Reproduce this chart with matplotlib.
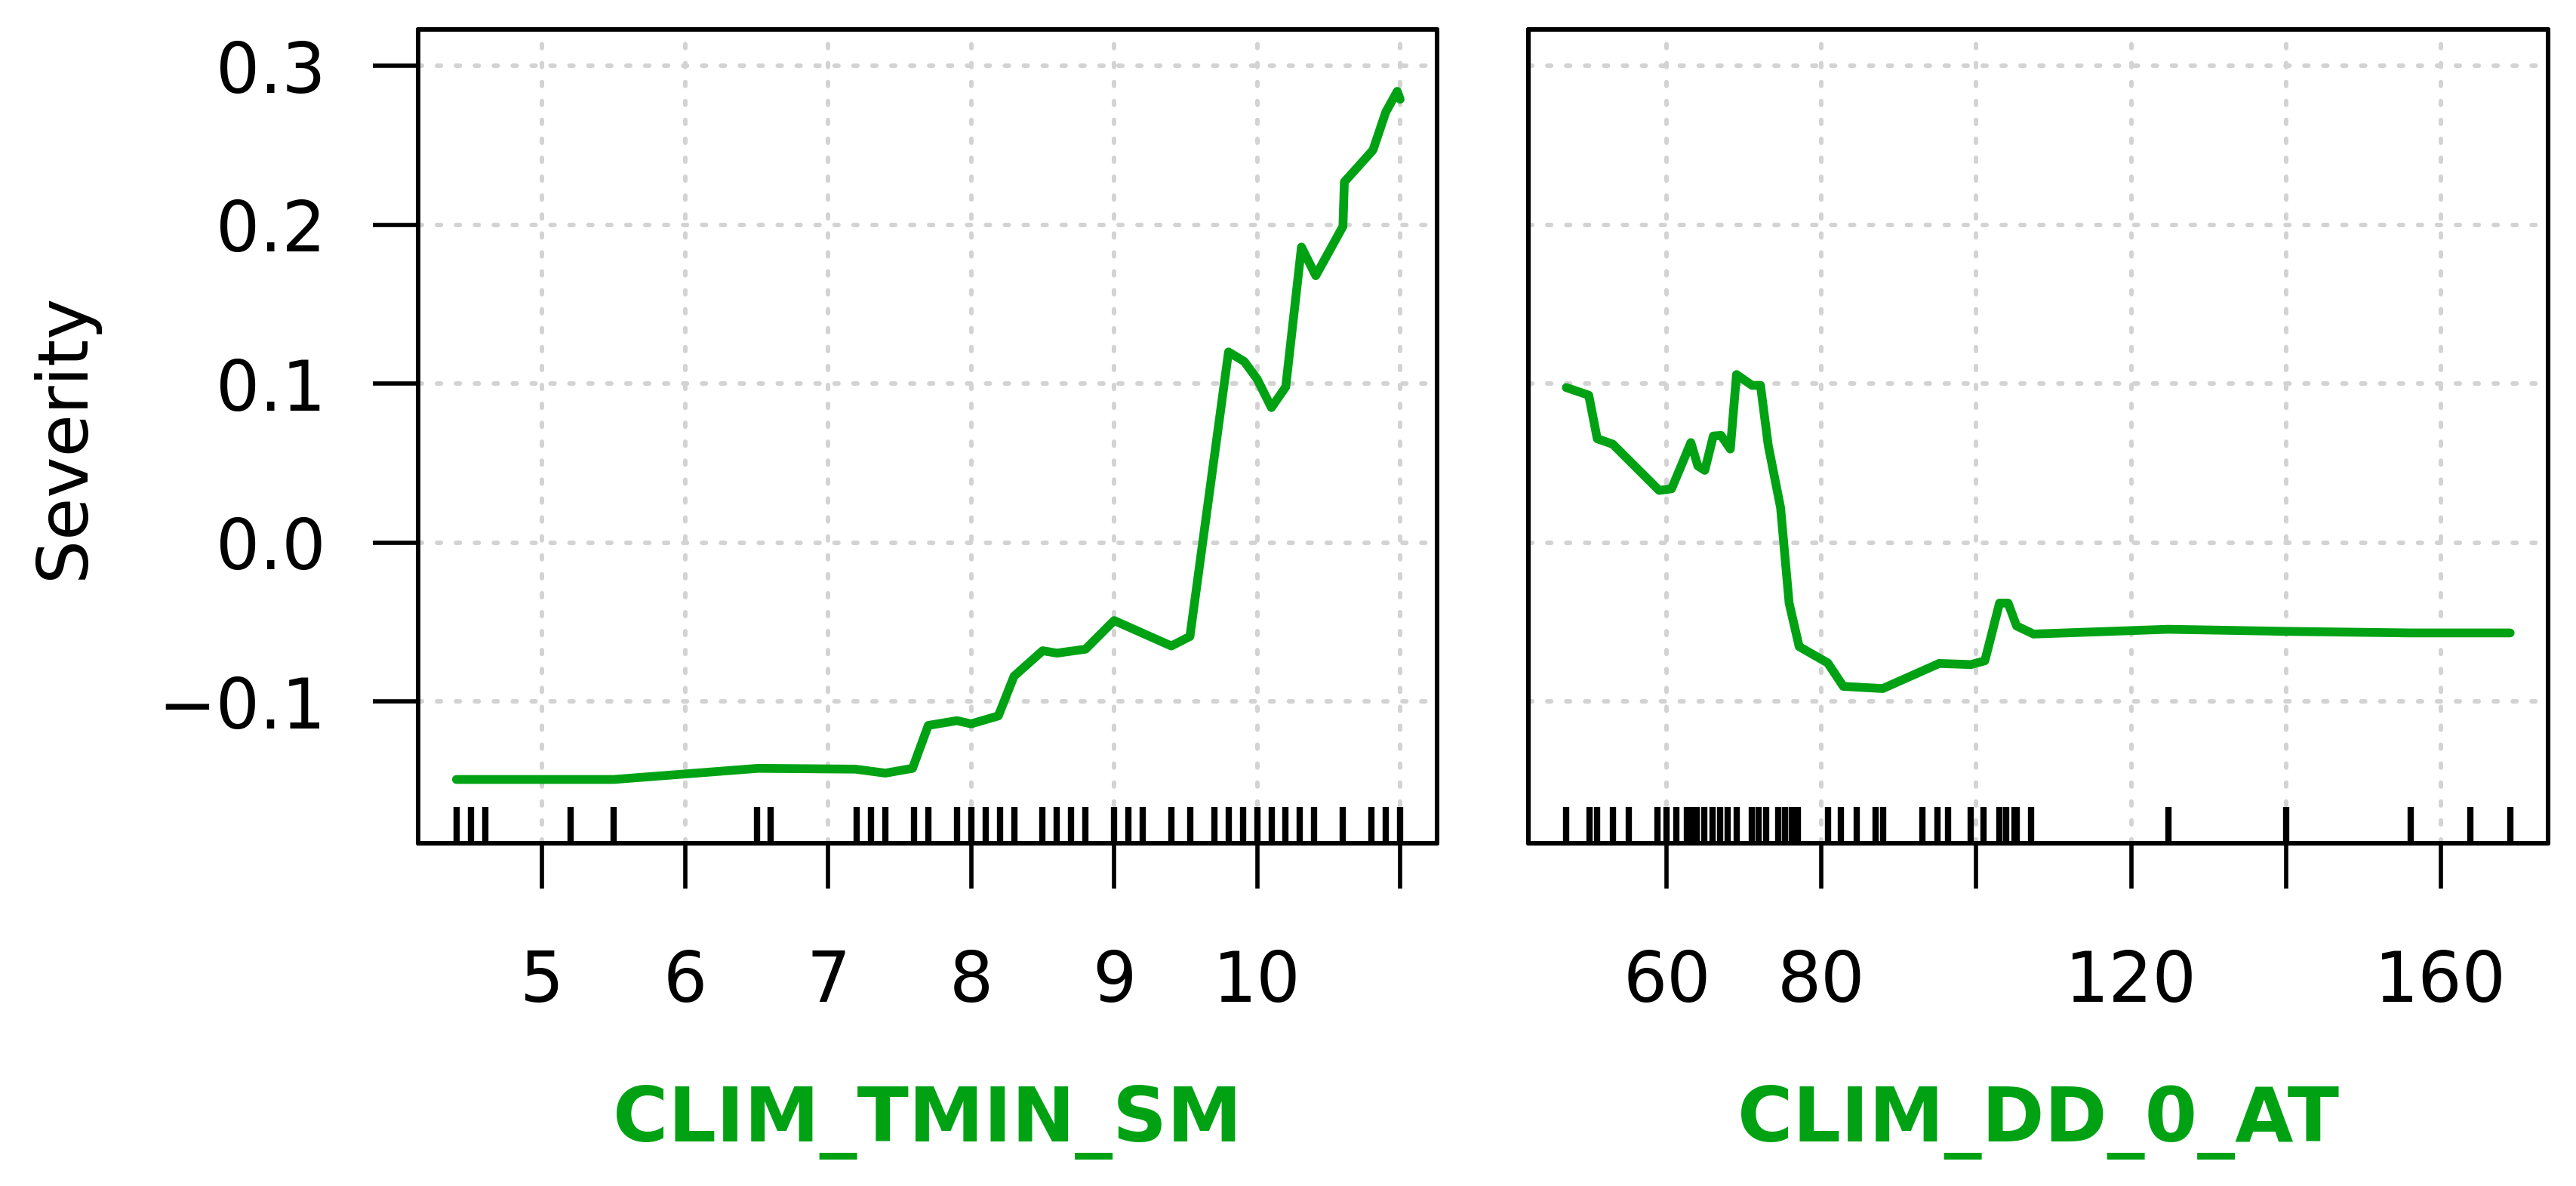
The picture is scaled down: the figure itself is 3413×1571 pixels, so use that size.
import matplotlib
matplotlib.use("Agg")
import matplotlib.pyplot as plt

plt.rcParams['font.family'] = ['DejaVu Sans']

# ---------------- data ----------------
tmin_x = [4.40, 5.50, 6.51, 7.19, 7.40, 7.59, 7.70, 7.90, 8.00, 8.19, 8.30, 8.50, 8.60,
          8.80, 9.00, 9.40, 9.53, 9.80, 9.91, 10.00, 10.10, 10.20, 10.31, 10.41, 10.60,
          10.61, 10.81, 10.90, 10.98, 11.00]
tmin_y = [-0.149, -0.149, -0.142, -0.1425, -0.145, -0.142, -0.115, -0.112, -0.114, -0.109,
          -0.084, -0.068, -0.0695, -0.067, -0.049, -0.065, -0.059, 0.120, 0.114, 0.103,
          0.085, 0.098, 0.186, 0.168, 0.199, 0.227, 0.247, 0.271, 0.284, 0.279]
tmin_rug = [4.4, 4.5, 4.6, 5.2, 5.5, 6.5, 6.6, 7.2, 7.3, 7.4, 7.6, 7.7, 7.9, 8.0, 8.1, 8.2,
            8.3, 8.5, 8.6, 8.7, 8.8, 9.0, 9.1, 9.2, 9.4, 9.53, 9.7, 9.8, 9.9, 10.0, 10.1,
            10.2, 10.3, 10.4, 10.6, 10.8, 10.9, 11.0]

dd_x = [47.0, 49.9, 51.0, 53.0, 59.0, 60.6, 61.7, 63.1, 64.0, 64.9, 66.0, 67.0, 68.2, 69.0,
        71.0, 72.1, 73.1, 74.7, 75.8, 77.1, 80.8, 82.8, 87.9, 95.2, 99.3, 101.1, 103.0,
        104.1, 105.2, 107.4, 124.8, 140.0, 156.1, 169.0]
dd_y = [0.0976, 0.0928, 0.0654, 0.0620, 0.0329, 0.0339, 0.0466, 0.0630, 0.0483, 0.0455,
        0.0671, 0.0675, 0.0589, 0.1058, 0.0990, 0.0990, 0.0613, 0.0219, -0.0380, -0.0654,
        -0.0757, -0.0904, -0.0918, -0.0760, -0.0767, -0.0743, -0.0380, -0.0380, -0.0524,
        -0.0575, -0.0545, -0.0558, -0.0568, -0.0568]
dd_rug = [47.0, 50.0, 51.0, 53.0, 55.1, 58.8, 60.0, 61.2, 62.6, 63.1, 63.9, 64.8, 65.9, 66.9,
          67.9, 69.0, 71.0, 71.9, 72.8, 74.4, 75.3, 76.1, 76.9, 80.8, 82.5, 84.5, 87.0, 88.0,
          93.0, 95.0, 96.3, 99.3, 100.9, 103.0, 103.9, 104.9, 105.2, 107.1, 124.8, 140.0,
          156.1, 163.9, 169.0]

y_ticks = [-0.1, 0.0, 0.1, 0.2, 0.3]
y_ticklabels = ["\u22120.1", "0.0", "0.1", "0.2", "0.3"]
tmin_ticks = [5, 6, 7, 8, 9, 10, 11]
tmin_ticklabels = ["5", "6", "7", "8", "9", "10", ""]
dd_ticks = [60, 80, 100, 120, 140, 160]
dd_ticklabels = ["60", "80", "", "120", "", "160"]

xlabels = ["CLIM_TMIN_SM", "CLIM_DD_0_AT"]
ylabel = "Severity"

# ---------------- style ----------------
GREEN = "#00A214"
GRID = "#D3D3D3"
W, H, DPI = 3413, 1571, 300
FS = 22

fig = plt.figure(figsize=(W / DPI, H / DPI), dpi=DPI)
bottom = 1 - 1116.7 / H
top = 1 - 39.3 / H
ax1 = fig.add_axes([554.3 / W, bottom, (1904.3 - 554.3) / W, top - bottom])
ax2 = fig.add_axes([2025 / W, bottom, (3376 - 2025) / W, top - bottom])

panels = [
    (ax1, tmin_x, tmin_y, tmin_rug, tmin_ticks, tmin_ticklabels, (4.134, 11.26)),
    (ax2, dd_x, dd_y, dd_rug, dd_ticks, dd_ticklabels, (42.1, 173.9)),
]

for i, (ax, xs, ys, rug, xt, xtl, xlim) in enumerate(panels):
    ax.set_xlim(*xlim)
    ax.set_ylim(-0.189, 0.3228)
    ax.set_xticks(xt)
    ax.set_xticklabels(xtl)
    ax.set_yticks(y_ticks)
    ax.grid(True, color=GRID, linewidth=1.44, linestyle=(0, (0.85, 3.33)),
            dash_capstyle="round", zorder=0)
    ax.set_axisbelow(True)
    ax.plot(xs, ys, color=GREEN, linewidth=2.8, solid_capstyle="round",
            solid_joinstyle="round", zorder=3)
    ax.vlines(rug, 0, 0.044, transform=ax.get_xaxis_transform(),
              colors="black", linewidth=2.0, zorder=2)
    for s in ax.spines.values():
        s.set_linewidth(1.45)
        s.set_color("black")
        s.set_capstyle("round")
    ax.tick_params(axis="x", length=14.4, width=1.35, pad=19, labelsize=FS,
                   direction="out")
    ax.set_xlabel(xlabels[i], color=GREEN, fontsize=24, fontweight="bold")
    ax.xaxis.set_label_coords(0.5, -0.297)
    if i == 0:
        ax.set_yticklabels(y_ticklabels)
        ax.tick_params(axis="y", length=14.4, width=1.35, pad=15, labelsize=FS)
        ax.set_ylabel(ylabel, fontsize=FS)
        ax.yaxis.set_label_coords(-0.3143, 0.5)
    else:
        ax.tick_params(axis="y", length=0, labelleft=False)

fig.savefig("out.png", dpi=DPI)
